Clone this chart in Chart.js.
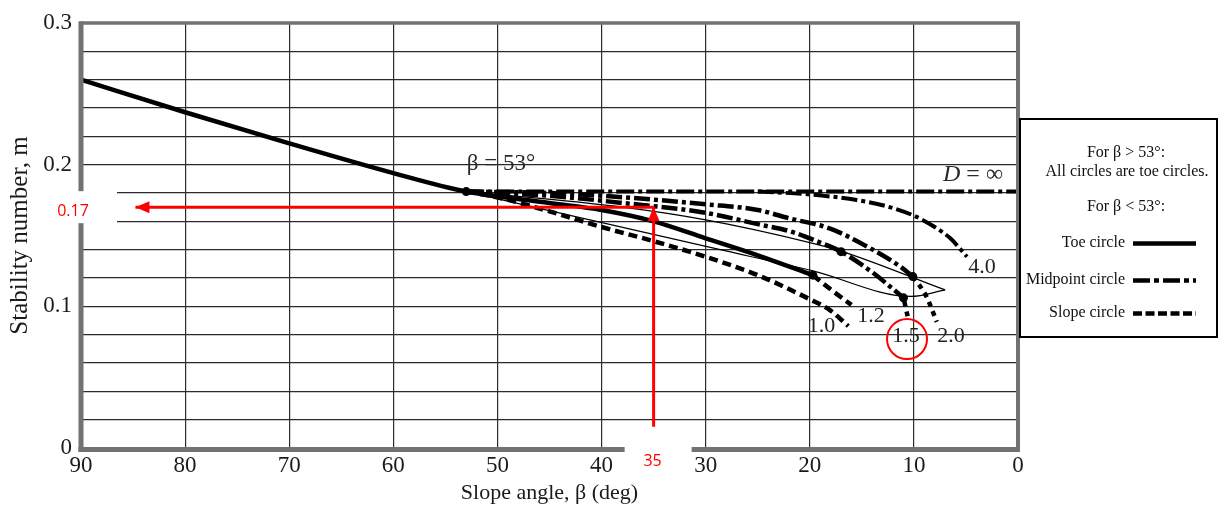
<!DOCTYPE html>
<html>
<head>
<meta charset="utf-8">
<title>Stability number vs slope angle</title>
<script src="https://cdn.jsdelivr.net/npm/chart.js@4.4.1/dist/chart.umd.min.js"></script>
<style>
  html, body { margin: 0; padding: 0; background: #fff; }
  #wrap { width: 1220px; height: 506px; }
</style>
</head>
<body>
<div id="wrap"><canvas id="myChart" width="1220" height="506"></canvas></div>
<script>
// values: slope angle beta (deg) and stability number m
const toeBeta = [90, 80, 70, 60, 53, 45, 40, 35, 30, 25, 19.7];
const toeM    = [0.260, 0.237, 0.215, 0.194, 0.181, 0.173, 0.168, 0.160, 0.148, 0.136, 0.122];

const d12TailBeta = [19.7, 18, 16];
const d12TailM    = [0.122, 0.112, 0.101];

const d10Beta = [53, 50, 45, 40, 35, 30, 25, 20, 18, 16.3];
const d10M    = [0.181, 0.177, 0.167, 0.156, 0.146, 0.135, 0.122, 0.105, 0.097, 0.086];

const d15Beta = [53, 45, 38, 30, 25, 21.9, 19, 17, 13.9, 12.3, 11];
const d15M    = [0.181, 0.178, 0.173, 0.166, 0.158, 0.153, 0.145, 0.1386, 0.1235, 0.114, 0.106];
const d15TailBeta = [11, 10.6];
const d15TailM    = [0.106, 0.093];

const d20Beta = [53, 45, 38, 30, 25, 21.9, 18.1, 14.2, 11.3, 10.1];
const d20M    = [0.181, 0.180, 0.177, 0.172, 0.168, 0.162, 0.155, 0.141, 0.128, 0.121];
const d20TailBeta = [10.1, 8.8, 7.8];
const d20TailM    = [0.121, 0.107, 0.089];

const d40Beta = [25, 20, 15.5, 12.8, 10, 8, 6.5, 4.9];
const d40M    = [0.181, 0.179, 0.175, 0.171, 0.164, 0.156, 0.148, 0.135];

const dInfBeta = [53, 0];
const dInfM    = [0.181, 0.181];

// thin boundary lines
const thinUpBeta = [53, 38, 30, 20, 17, 7];
const thinUpM    = [0.181, 0.170, 0.161, 0.145, 0.139, 0.1116];
const thinLoBeta = [53, 28.6, 19.7, 10.3, 7];
const thinLoM    = [0.181, 0.140, 0.125, 0.107, 0.1116];

// marked points
const dotBeta = [53, 19.7, 17, 11, 10.1];
const dotM    = [0.181, 0.122, 0.1386, 0.106, 0.121];

// red reading arrows (beta = 35 -> m = 0.17)
const readBeta = 35;
const readM = 0.17;
const arrowLeftBeta = 84.77;
const arrowBottomM = 0.015;

// curve labels (D values)
const curveLabels = ['1.0', '1.2', '1.5', '2.0', '4.0'];
const curveLabelBeta = [18.87, 14.12, 10.75, 6.43, 3.45];
const curveLabelM = [0.0861, 0.0932, 0.0787, 0.0787, 0.1274];

const SERIF = "'Liberation Serif', 'Times New Roman', serif";
const DASH = [9, 5];
const DASHDOT = [16, 4, 4, 4];

function pts(xs, ys) {
    return xs.map((x, i) => ({ x: x, y: ys[i] }));
}

function curve(label, xs, ys, dash, width) {
    return {
        label: label,
        data: pts(xs, ys),
        borderColor: '#000',
        borderWidth: width || 4.5,
        borderDash: dash || [],
        borderCapStyle: 'butt',
        pointRadius: 0,
        fill: false,
        cubicInterpolationMode: 'monotone'
    };
}

function line(ctx, x1, y1, x2, y2) {
    ctx.beginPath();
    ctx.moveTo(x1, y1);
    ctx.lineTo(x2, y2);
    ctx.stroke();
}

// frame, arrow heads, text notes and the legend box
const decor = {
    id: 'decor',
    beforeDraw(chart) {
        const ctx = chart.ctx;
        ctx.save();
        ctx.fillStyle = '#fff';
        ctx.fillRect(0, 0, chart.width, chart.height);
        ctx.restore();
    },
    afterDraw(chart) {
        const ctx = chart.ctx, a = chart.chartArea;
        const px = v => chart.scales.x.getPixelForValue(v);
        const py = v => chart.scales.y.getPixelForValue(v);
        ctx.save();

        // gray frame
        ctx.strokeStyle = '#727272';
        ctx.lineWidth = 3.5;
        line(ctx, a.left, a.top, a.right + 2, a.top);
        ctx.lineWidth = 4;
        line(ctx, a.right, a.top, a.right, a.bottom + 2);
        ctx.lineWidth = 5;
        line(ctx, a.left, a.top - 1.7, a.left, a.bottom + 4);
        line(ctx, a.left - 2.5, a.bottom + 1.5, a.right + 2, a.bottom + 1.5);

        // red arrow heads
        ctx.fillStyle = '#ff0000';
        const hx = px(arrowLeftBeta), hy = py(readM);
        ctx.beginPath();
        ctx.moveTo(hx, hy);
        ctx.lineTo(hx + 14, hy - 6);
        ctx.lineTo(hx + 14, hy + 6);
        ctx.closePath();
        ctx.fill();
        const vx = px(readBeta);
        ctx.beginPath();
        ctx.moveTo(vx, hy);
        ctx.lineTo(vx - 6, hy + 14);
        ctx.lineTo(vx + 6, hy + 14);
        ctx.closePath();
        ctx.fill();

        // white patches behind the red reading labels
        ctx.fillStyle = '#fff';
        ctx.fillRect(40, hy - 16, 77, 32);
        ctx.fillRect(vx - 29, py(arrowBottomM) + 1, 67, 52);

        ctx.fillStyle = '#ff0000';
        ctx.font = "16px 'Open Sans', sans-serif";
        ctx.textAlign = 'center';
        ctx.textBaseline = 'middle';
        ctx.fillText(String(readM), 73, hy + 4);
        ctx.fillText(String(readBeta), vx - 1, 461);

        // D labels on the curves
        ctx.fillStyle = '#222';
        ctx.font = '22px ' + SERIF;
        curveLabels.forEach((t, i) => {
            ctx.fillText(t, px(curveLabelBeta[i]), py(curveLabelM[i]));
        });

        // red circle round 1.5
        ctx.strokeStyle = '#ff0000';
        ctx.lineWidth = 2;
        ctx.beginPath();
        ctx.arc(px(10.66), py(0.0769), 20, 0, Math.PI * 2);
        ctx.stroke();

        // beta = 53 note
        ctx.fillStyle = '#2a2a2a';
        ctx.font = '23px ' + SERIF;
        ctx.fillText('β = 53°', px(49.66), py(0.2005));

        // D = infinity note
        ctx.font = 'italic 24px ' + SERIF;
        const wD = ctx.measureText('D').width;
        ctx.font = '24px ' + SERIF;
        const wR = ctx.measureText(' = ∞').width;
        const sx = px(4.32) - (wD + wR) / 2;
        const sy = py(0.1927);
        ctx.textAlign = 'left';
        ctx.font = 'italic 24px ' + SERIF;
        ctx.fillText('D', sx, sy);
        ctx.font = '24px ' + SERIF;
        ctx.fillText(' = ∞', sx + wD, sy);

        // legend box
        ctx.strokeStyle = '#000';
        ctx.lineWidth = 2;
        ctx.strokeRect(1020, 119, 197, 218);
        ctx.fillStyle = '#111';
        ctx.font = '16px ' + SERIF;
        ctx.textAlign = 'center';
        ctx.fillText('For β > 53°:', 1126, 153);
        ctx.fillText('All circles are toe circles.', 1127, 172);
        ctx.fillText('For β < 53°:', 1126, 207);
        ctx.textAlign = 'right';
        const rows = [['Toe circle', 243, []], ['Midpoint circle', 280, [17, 4, 5, 4]], ['Slope circle', 313, [9, 3.5]]];
        rows.forEach(r => {
            ctx.fillText(r[0], 1125, r[1]);
            ctx.setLineDash(r[2]);
            ctx.lineWidth = 4.5;
            line(ctx, 1133, r[1] + 0.5, 1196, r[1] + 0.5);
        });
        ctx.setLineDash([]);
        ctx.restore();
    }
};

const ctx = document.getElementById('myChart').getContext('2d');

const myChart = new Chart(ctx, {
    type: 'line',
    data: {
        datasets: [
            { // marked points on the curves
                label: 'points',
                data: pts(dotBeta, dotM),
                showLine: false,
                pointRadius: 4.5,
                pointBackgroundColor: '#000',
                pointBorderColor: '#000',
                pointBorderWidth: 0
            },
            {
                label: 'read m',
                data: pts([readBeta, arrowLeftBeta], [readM, readM]),
                borderColor: '#ff0000',
                borderWidth: 3,
                pointRadius: 0,
                tension: 0
            },
            {
                label: 'read beta',
                data: pts([readBeta, readBeta], [arrowBottomM, readM]),
                borderColor: '#ff0000',
                borderWidth: 3,
                pointRadius: 0,
                tension: 0
            },
            curve('toe circle', toeBeta, toeM, [], 4.5),
            curve('D=1.2 slope', d12TailBeta, d12TailM, DASH),
            curve('D=1.0', d10Beta, d10M, DASH),
            curve('D=1.5', d15Beta, d15M, DASHDOT),
            curve('D=1.5 slope', d15TailBeta, d15TailM, DASH),
            curve('D=2.0', d20Beta, d20M, DASHDOT),
            curve('D=2.0 slope', d20TailBeta, d20TailM, [5, 5]),
            curve('D=4.0', d40Beta, d40M, DASHDOT, 4),
            curve('D=inf', dInfBeta, dInfM, [18, 4, 4, 4], 4),
            curve('thin upper', thinUpBeta, thinUpM, [], 1.2),
            curve('thin lower', thinLoBeta, thinLoM, [], 1.2)
        ]
    },
    options: {
        responsive: false,
        animation: false,
        devicePixelRatio: 1,
        layout: { padding: { top: 23, right: 202, left: 0, bottom: 0 } },
        plugins: {
            legend: { display: false },
            tooltip: { enabled: false }
        },
        scales: {
            x: {
                type: 'linear',
                reverse: true,
                min: 0,
                max: 90,
                afterFit: function (s) { s.height = 58; },
                ticks: {
                    stepSize: 10,
                    padding: 4,
                    autoSkip: false,
                    maxRotation: 0,
                    color: '#1a1a1a',
                    font: { family: SERIF, size: 23 }
                },
                grid: { color: '#2b2b2b', lineWidth: 1.2, drawTicks: false },
                border: { display: false },
                title: {
                    display: true,
                    text: 'Slope angle, β (deg)',
                    color: '#1a1a1a',
                    font: { family: SERIF, size: 22 },
                    padding: { top: 0, bottom: 0 }
                }
            },
            y: {
                min: 0,
                max: 0.3,
                afterFit: function (s) { s.width = 81; },
                ticks: {
                    stepSize: 0.02,
                    padding: 9,
                    autoSkip: false,
                    color: '#1a1a1a',
                    font: { family: SERIF, size: 23 },
                    callback: function (v) {
                        const r = Math.round(v * 100);
                        if (r % 10 !== 0) return '';
                        return r === 0 ? '0' : (r / 100).toFixed(1);
                    }
                },
                grid: { color: '#2b2b2b', lineWidth: 1.2, drawTicks: false },
                border: { display: false },
                title: {
                    display: true,
                    text: 'Stability number, m',
                    color: '#1a1a1a',
                    font: { family: SERIF, size: 25 },
                    padding: { top: 5, bottom: 0 }
                }
            }
        }
    },
    plugins: [decor]
});
</script>
</body>
</html>
